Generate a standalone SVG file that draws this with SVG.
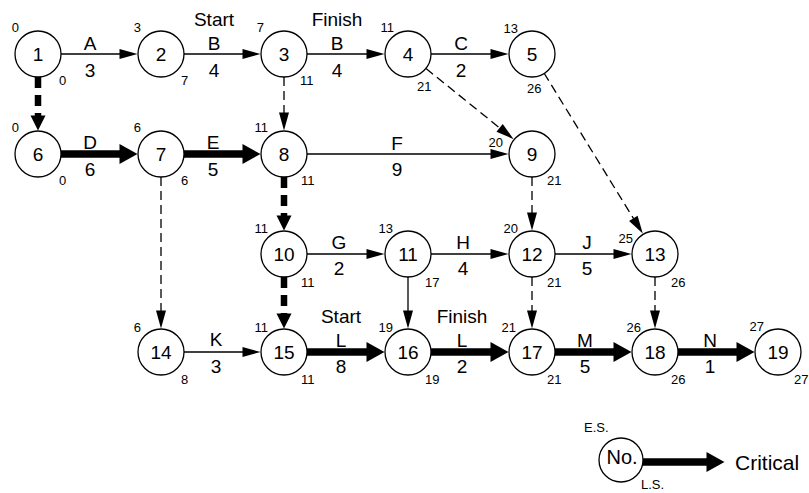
<svg xmlns="http://www.w3.org/2000/svg" width="809" height="493" viewBox="0 0 809 493">
<style>
text{font-family:"Liberation Sans",Arial,sans-serif;fill:#000}
.n{font-size:19px;text-anchor:middle}
.l{font-size:19px;text-anchor:middle}
.es{font-size:13px;text-anchor:end}
.ls{font-size:13px;text-anchor:start}
circle{fill:#fff;stroke:#000;stroke-width:1.3}
.thin{stroke:#000;stroke-width:1.3;fill:none;marker-end:url(#aThin)}
.dash{stroke:#000;stroke-width:1.3;fill:none;stroke-dasharray:9,5;marker-end:url(#aThin)}
.crit{stroke:#000;stroke-width:7.5;fill:none;marker-end:url(#aCrit)}
.cdash{stroke:#000;stroke-width:6.5;fill:none;stroke-dasharray:11,7;marker-end:url(#aCdash)}
</style>
<defs>
<marker id="aThin" markerUnits="userSpaceOnUse" markerWidth="18" markerHeight="10" refX="0.5" refY="5" orient="auto" overflow="visible"><path d="M0,0 L18,5 L0,10 z" fill="#000"/></marker>
<marker id="aCrit" markerUnits="userSpaceOnUse" markerWidth="18" markerHeight="20" refX="0.5" refY="10" orient="auto" overflow="visible"><path d="M0,0 L18,10 L0,20 z" fill="#000"/></marker>
<marker id="aCdash" markerUnits="userSpaceOnUse" markerWidth="15" markerHeight="15" refX="0.5" refY="7.5" orient="auto" overflow="visible"><path d="M0,0 L15,7.5 L0,15 z" fill="#000"/></marker>
</defs>
<g id="connectors">
<line class="thin" x1="61" y1="54" x2="120" y2="54"/>
<line class="thin" x1="184" y1="54" x2="243" y2="54"/>
<line class="thin" x1="307" y1="54" x2="367" y2="54"/>
<line class="thin" x1="431" y1="54" x2="491" y2="54"/>
<line class="thin" x1="307" y1="154" x2="491" y2="154"/>
<line class="thin" x1="307" y1="254" x2="367" y2="254"/>
<line class="thin" x1="431" y1="254" x2="491" y2="254"/>
<line class="thin" x1="555" y1="254" x2="614" y2="254"/>
<line class="thin" x1="184" y1="352" x2="243" y2="352"/>
<line class="thin" x1="408" y1="277" x2="408" y2="311"/>
<line class="crit" x1="61" y1="154" x2="120" y2="154"/>
<line class="crit" x1="184" y1="154" x2="243" y2="154"/>
<line class="crit" x1="307" y1="352" x2="367" y2="352"/>
<line class="crit" x1="431" y1="352" x2="491" y2="352"/>
<line class="crit" x1="555" y1="352" x2="614" y2="352"/>
<line class="crit" x1="678" y1="352" x2="737" y2="352"/>
<line class="cdash" x1="38" y1="77" x2="38" y2="116"/>
<line class="cdash" x1="284" y1="177" x2="284" y2="216"/>
<line class="cdash" x1="284" y1="277" x2="284" y2="314"/>
<line class="dash" x1="284" y1="77" x2="284" y2="113"/>
<line class="dash" x1="161" y1="177" x2="161" y2="311"/>
<line class="dash" x1="426" y1="68.5" x2="500" y2="128.2"/>
<line class="dash" x1="544" y1="73" x2="633.6" y2="218.7"/>
<line class="dash" x1="532" y1="177" x2="532" y2="213"/>
<line class="dash" x1="532" y1="277" x2="532" y2="311"/>
<line class="dash" x1="655" y1="277" x2="655" y2="311"/>
</g>
<g id="edge-labels">
<text class="l" x="90" y="49.5">A</text><text class="l" x="90" y="77">3</text>
<text class="l" x="214" y="26">Start</text>
<text class="l" x="214" y="49.5">B</text><text class="l" x="214" y="77">4</text>
<text class="l" x="337" y="26">Finish</text>
<text class="l" x="337" y="49.5">B</text><text class="l" x="337" y="77">4</text>
<text class="l" x="461" y="49.5">C</text><text class="l" x="461" y="77">2</text>
<text class="l" x="90" y="149">D</text><text class="l" x="90" y="175.5">6</text>
<text class="l" x="213" y="149">E</text><text class="l" x="213" y="175.5">5</text>
<text class="l" x="397" y="149.5">F</text><text class="l" x="397" y="175.5">9</text>
<text class="l" x="339" y="248.5">G</text><text class="l" x="339" y="275">2</text>
<text class="l" x="463" y="248.5">H</text><text class="l" x="463" y="275">4</text>
<text class="l" x="587" y="248.5">J</text><text class="l" x="587" y="275">5</text>
<text class="l" x="216" y="346">K</text><text class="l" x="216" y="373">3</text>
<text class="l" x="341" y="323">Start</text>
<text class="l" x="341" y="346.5">L</text><text class="l" x="341" y="373">8</text>
<text class="l" x="462" y="323">Finish</text>
<text class="l" x="462" y="346.5">L</text><text class="l" x="462" y="373">2</text>
<text class="l" x="585" y="346.5">M</text><text class="l" x="585" y="373">5</text>
<text class="l" x="710" y="346.5">N</text><text class="l" x="710" y="373">1</text>
</g>
<g id="n1"><circle cx="38" cy="54" r="23"/><text class="n" x="38" y="61">1</text><text class="es" x="19" y="32">0</text><text class="ls" x="59" y="85">0</text></g>
<g id="n2"><circle cx="161" cy="54" r="23"/><text class="n" x="161" y="61">2</text><text class="es" x="141" y="32">3</text><text class="ls" x="181" y="85">7</text></g>
<g id="n3"><circle cx="284" cy="54" r="23"/><text class="n" x="284" y="61">3</text><text class="es" x="264" y="32">7</text><text class="ls" x="300" y="85">11</text></g>
<g id="n4"><circle cx="408" cy="54" r="23"/><text class="n" x="408" y="61">4</text><text class="es" x="394" y="32">11</text><text class="ls" x="417" y="91">21</text></g>
<g id="n5"><circle cx="532" cy="54" r="23"/><text class="n" x="532" y="61">5</text><text class="es" x="518" y="33">13</text><text class="ls" x="527" y="93">26</text></g>
<g id="n6"><circle cx="38" cy="154" r="23"/><text class="n" x="38" y="161">6</text><text class="es" x="19" y="132">0</text><text class="ls" x="59" y="185">0</text></g>
<g id="n7"><circle cx="161" cy="154" r="23"/><text class="n" x="161" y="161">7</text><text class="es" x="141" y="132">6</text><text class="ls" x="181" y="185">6</text></g>
<g id="n8"><circle cx="284" cy="154" r="23"/><text class="n" x="284" y="161">8</text><text class="es" x="268" y="132">11</text><text class="ls" x="301" y="185">11</text></g>
<g id="n9"><circle cx="532" cy="154" r="23"/><text class="n" x="532" y="161">9</text><text class="es" x="503" y="147">20</text><text class="ls" x="547" y="185">21</text></g>
<g id="n10"><circle cx="284" cy="254" r="23"/><text class="n" x="284" y="261">10</text><text class="es" x="268" y="233">11</text><text class="ls" x="301" y="287">11</text></g>
<g id="n11"><circle cx="408" cy="254" r="23"/><text class="n" x="408" y="261">11</text><text class="es" x="393" y="233">13</text><text class="ls" x="425" y="287">17</text></g>
<g id="n12"><circle cx="532" cy="254" r="23"/><text class="n" x="532" y="261">12</text><text class="es" x="518" y="233">20</text><text class="ls" x="547" y="287">21</text></g>
<g id="n13"><circle cx="655" cy="254" r="23"/><text class="n" x="655" y="261">13</text><text class="es" x="633" y="243">25</text><text class="ls" x="671" y="287">26</text></g>
<g id="n14"><circle cx="161" cy="352" r="23"/><text class="n" x="161" y="359">14</text><text class="es" x="141" y="332">6</text><text class="ls" x="181" y="384">8</text></g>
<g id="n15"><circle cx="284" cy="352" r="23"/><text class="n" x="284" y="359">15</text><text class="es" x="268" y="332">11</text><text class="ls" x="301" y="384">11</text></g>
<g id="n16"><circle cx="408" cy="352" r="23"/><text class="n" x="408" y="359">16</text><text class="es" x="393" y="332">19</text><text class="ls" x="425" y="384">19</text></g>
<g id="n17"><circle cx="532" cy="352" r="23"/><text class="n" x="532" y="359">17</text><text class="es" x="516" y="332">21</text><text class="ls" x="547" y="384">21</text></g>
<g id="n18"><circle cx="655" cy="352" r="23"/><text class="n" x="655" y="359">18</text><text class="es" x="641" y="332">26</text><text class="ls" x="671" y="384">26</text></g>
<g id="n19"><circle cx="778" cy="352" r="23"/><text class="n" x="778" y="359">19</text><text class="es" x="764" y="331">27</text><text class="ls" x="794" y="384">27</text></g>
<g id="legend">
<line class="crit" x1="643" y1="462" x2="707" y2="462"/>
<circle cx="621" cy="460" r="22"/>
<text class="n" x="622" y="464" style="font-size:20px">No.</text>
<text x="735" y="470" style="font-size:21px">Critical</text>
<text x="584" y="432" style="font-size:13px">E.S.</text>
<text x="641" y="489" style="font-size:13px">L.S.</text>
</g>
</svg>
